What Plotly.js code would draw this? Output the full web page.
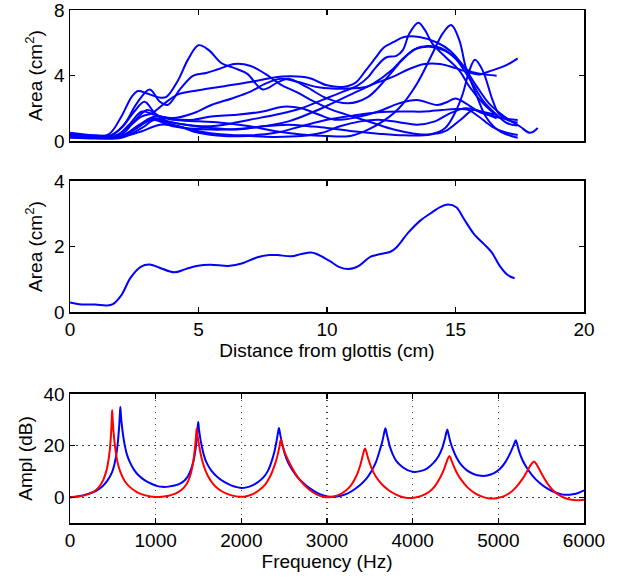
<!DOCTYPE html>
<html><head><meta charset="utf-8">
<script src="https://cdn.plot.ly/plotly-3.0.1.min.js"></script>
<style>html,body{margin:0;padding:0;background:#fff}</style>
</head><body><div id="chart" style="width:622px;height:581px"></div>
<script>
// ---- Top panel: area functions (cm^2) vs distance from glottis (cm) ----
const k1x=[0,0.8,1.5,2.0,2.4,2.65,3.0,3.5,3.75,4.2,4.6,5.0,5.4,5.9,6.4,6.9,7.5,8.1,8.5,9.2,10.0,10.8,11.6,12.3,12.9,13.4,13.9,14.4,14.9,15.3,15.7,16.1,16.6,17.0,17.4];
const k1y=[0.35,0.3,0.4,1.5,2.7,3.05,2.9,2.65,2.7,3.7,5.0,5.85,5.55,4.75,4.45,4.1,3.15,3.6,3.8,3.3,2.6,2.3,2.7,3.8,4.9,5.6,5.8,5.7,5.2,4.4,3.4,2.4,1.6,1.1,0.94];
const k2x=[0,0.8,1.6,2.1,2.6,3.1,3.5,3.8,4.3,4.8,5.3,5.8,6.4,7.0,7.6,8.2,8.8,9.5,10.2,11.0,11.8,12.6,13.4,14.0,14.6,15.2,15.7,16.1,16.6];
const k2y=[0.4,0.3,0.35,1.0,2.3,3.15,2.4,2.2,3.2,4.0,4.15,4.4,4.7,4.6,4.1,3.45,3.0,2.4,1.9,1.5,1.1,0.7,0.45,0.4,0.6,1.3,1.9,1.7,1.38];
const k3x=[0,1.0,1.8,2.3,2.8,3.2,3.6,4.2,5.0,6.0,7.0,8.0,8.6,9.3,10.0,10.6,11.1,11.5,11.9,12.2,12.6,13.0,13.6,14.3,14.8,15.3,15.8,16.3,16.9,17.5,17.9,18.2];
const k3y=[0.3,0.25,0.35,0.9,1.5,1.7,2.2,2.85,3.1,3.35,3.6,3.9,3.95,3.85,3.4,3.3,3.55,4.3,5.1,5.7,6.05,6.35,6.35,6.0,5.5,4.6,3.4,2.3,1.5,0.9,0.5,0.8];
const k4x=[0,1.0,1.8,2.3,2.8,3.3,4.0,4.8,5.5,6.3,7.0,7.6,8.2,8.9,9.6,10.2,10.8,11.5,12.0,12.6,13.2,13.8,14.4,15.0,15.5,15.9,16.4,17.0,17.42];
const k4y=[0.3,0.2,0.3,1.0,1.8,1.6,1.4,1.7,2.2,2.6,3.0,3.5,3.8,3.6,3.3,3.2,3.2,3.3,3.6,3.95,4.4,4.7,4.7,4.45,4.2,4.06,4.3,4.65,5.05];
const k5x=[0,0.8,1.5,2.0,2.5,2.9,3.3,3.8,4.5,5.3,6.0,7.0,8.0,9.0,9.8,10.6,11.2,11.6,11.9,12.3,12.7,12.95,13.2,13.55,13.8,14.1,14.6,15.15,15.55,16.1,16.6];
const k5y=[0.5,0.35,0.3,0.8,1.8,2.4,1.7,1.2,1.0,0.9,1.0,1.3,1.6,2.0,2.5,3.0,3.4,3.9,4.5,5.1,5.2,5.55,6.55,7.22,6.8,5.95,5.15,4.3,3.3,2.25,1.55];
const k6x=[0,1.0,2.0,2.7,3.3,4.0,5.0,6.0,7.0,8.0,9.0,10.0,10.9,11.5,12.2,12.8,13.5,14.1,14.5,14.83,15.15,15.4,15.8,16.2,16.7,17.42];
const k6y=[0.3,0.25,0.3,1.0,1.5,1.3,1.2,1.1,0.9,0.6,0.4,0.3,0.31,0.62,1.23,2.0,3.5,5.33,6.56,7.08,6.15,4.5,2.87,1.44,0.62,0.2];
const k7x=[0,1.0,2.0,2.6,3.2,3.8,4.5,5.5,6.5,7.5,8.5,9.3,10.0,11.0,12.0,13.0,14.0,14.6,15.02,15.28,15.54,15.76,16.06,16.45,16.7,17.1,17.42];
const k7y=[0.25,0.2,0.25,0.8,1.4,1.2,1.0,0.8,0.7,0.9,1.0,0.9,0.8,0.6,0.45,0.35,0.4,0.8,1.85,2.87,4.3,4.96,4.3,2.46,1.64,1.23,1.13];
const k8x=[0,1.0,2.0,2.5,3.2,4.0,5.5,7.0,8.5,9.5,10.2,11.0,11.8,12.5,13.0,13.5,14.0,14.6,15.1,15.5,16.0,16.6];
const k8y=[0.3,0.25,0.3,0.7,1.3,0.9,0.7,0.8,1.2,1.8,2.3,2.9,3.5,4.3,5.1,5.65,5.75,5.5,4.9,4.3,4.1,3.99];
const k9x=[0,1.0,2.0,2.8,3.3,4.0,5.0,6.0,7.0,8.0,9.0,10.0,11.0,12.0,13.0,13.8,14.5,15.0,15.5,15.9,16.4,16.9,17.42];
const k9y=[0.2,0.15,0.2,0.8,1.3,1.0,0.6,0.4,0.35,0.5,0.9,1.3,1.55,1.75,1.8,1.8,1.9,1.95,1.9,1.5,0.9,0.55,0.37];
const k10x=[0,1.0,2.0,2.5,3.0,3.5,4.0,4.8,5.5,6.5,7.5,8.3,9.0,9.7,10.3,11.0,12.0,12.8,13.5,14.3,14.7,15.0,15.4,15.9,16.5,17.0,17.42];
const k10y=[0.45,0.35,0.4,1.2,1.9,1.5,1.35,1.3,1.5,1.6,1.8,2.1,2.0,1.6,1.3,1.4,1.8,2.3,2.5,2.2,2.4,2.6,2.3,1.8,1.5,1.35,1.28];
const k11x=[0,1.0,2.0,2.8,3.5,4.2,5.0,6.0,7.0,8.0,9.0,9.8,10.5,11.3,12.0,12.8,13.5,14.2,14.8,15.4,16.0,16.6];
const k11y=[0.25,0.2,0.25,0.6,1.0,0.9,0.5,0.3,0.3,0.25,0.3,0.5,0.9,1.2,1.3,1.15,1.0,1.2,1.7,2.0,1.8,1.59];
const topX=[k1x,k2x,k3x,k4x,k5x,k6x,k7x,k8x,k9x,k10x,k11x];
const topY=[k1y,k2y,k3y,k4y,k5y,k6y,k7y,k8y,k9y,k10y,k11y];

// ---- Middle panel: single area function ----
const midX=[0,0.35,0.97,1.43,1.67,1.98,2.36,2.75,3.1,3.46,4.06,4.5,4.98,5.45,6.22,6.68,7.3,7.76,8.07,8.61,9.0,9.38,9.6,10.08,10.46,10.85,11.24,11.7,12.08,12.47,12.7,13.17,13.63,14.1,14.4,14.71,15.03,15.33,15.72,16.1,16.41,16.72,17.03,17.3];
const midY=[0.29,0.24,0.23,0.2,0.24,0.49,1.05,1.38,1.45,1.36,1.21,1.31,1.41,1.44,1.41,1.48,1.67,1.74,1.74,1.70,1.77,1.82,1.77,1.57,1.38,1.31,1.41,1.69,1.77,1.84,1.97,2.43,2.79,3.05,3.2,3.28,3.2,2.84,2.38,2.08,1.82,1.41,1.13,1.03];

// ---- Bottom panel: frequency responses (Hz, dB) ----
const freqBlue=[0,100,200,300,380,440,490,520,545,562,575,583,588,595,605,620,640,665,700,750,800,870,950,1020,1080,1150,1220,1290,1340,1380,1420,1445,1465,1480,1490,1497,
 1505,1520,1540,1565,1600,1650,1720,1800,1880,1960,2000,2060,2130,2200,2260,2310,2350,2385,2410,2428,2439,
 2450,2465,2485,2510,2545,2590,2650,2720,2800,2880,2950,3010,3080,3150,3230,3310,3390,3460,3520,3570,3610,3645,3668,3682,
 3695,3712,3735,3765,3810,3870,3940,4020,4100,4170,4240,4300,4345,4375,4395,4405,
 4418,4440,4470,4510,4560,4630,4710,4800,4870,4950,5020,5080,5130,5170,5195,5205,
 5220,5245,5280,5330,5400,5480,5560,5650,5740,5800,5870,5940,6000];
const amplBlue=[0,0.4,1.2,2.4,4.2,6.6,9.6,13,17.5,22.5,28,32.5,35,31.5,28,24,20,16.5,13.5,10.5,8.5,6.6,5.2,4.3,4.0,4.1,4.5,5.4,6.6,8.3,11.5,14.5,18.5,23,27,29.1,
 26.5,23,19.5,16,13,10.3,7.8,5.9,4.6,3.8,3.6,3.8,4.6,6.0,7.8,10.2,13.5,17.5,21.5,25,26.8,
 25,22.5,19.5,16.5,13.5,10.8,8.0,5.6,3.4,1.8,0.8,0.3,0.2,0.5,1.3,2.8,4.8,7.2,10.2,13.5,17.5,21.5,25,26.7,
 25,22.5,19.5,16.8,14,12,10.5,9.8,10.2,11.2,13.2,15.8,19,22.5,25.3,26.2,
 24.5,21.5,18.5,15.5,12.8,10.5,9.0,8.3,8.4,9.3,11.0,13.5,16.5,19.5,21.5,22.1,
 20.5,17.5,14.5,11.5,8.3,5.6,3.6,2.0,1.1,0.9,1.1,1.7,2.6];
const freqRed=[0,100,200,280,340,390,425,450,468,480,487,492,
 500,512,530,555,590,640,700,780,860,940,1000,1070,1150,1230,1300,1360,1405,1435,1457,1470,1478,
 1488,1505,1530,1565,1610,1670,1740,1820,1900,1980,2060,2140,2210,2280,2340,2390,2425,2447,2461,
 2475,2500,2530,2570,2620,2680,2750,2830,2910,2980,3050,3130,3210,3280,3340,3385,3415,3435,3445,
 3460,3485,3520,3570,3640,3720,3800,3880,3950,4030,4110,4190,4260,4320,4370,4405,4428,
 4445,4470,4510,4570,4640,4720,4810,4900,4980,5060,5140,5210,5280,5340,5385,5415,
 5440,5475,5520,5580,5650,5730,5810,5880,5950,6000];
const amplRed=[0,0.3,1.0,2.2,4.0,6.8,10.3,14.5,19.5,25,30,33.8,
 29,24,18.5,13.5,9.6,6.2,3.9,2.0,0.9,0.3,0.1,0.2,0.6,1.4,2.8,5.0,8.5,13,18.5,23,26.6,
 24,20.5,16,11.8,8.2,5.2,3.0,1.5,0.6,0.2,0.4,1.3,2.8,5.0,8.3,12.5,16.5,20,22.5,
 21,18,15.5,12.8,9.8,6.8,4.2,2.0,0.6,0.0,0.1,0.8,2.3,4.6,8.0,12,15.8,18.3,18.9,
 17.5,14.5,11.3,8.0,5.0,2.7,1.1,0.1,-0.3,-0.1,0.6,2.0,4.3,7.5,11.2,14.5,16.0,
 15,12.8,9.8,6.6,3.8,1.7,0.2,-0.5,-0.4,0.3,1.8,4.0,7.0,10.3,12.8,13.8,
 13,11,8.2,5.0,2.3,0.4,-0.7,-1.1,-1.2,-1.0];

const BLUE='#0000ff', RED='#ff0000';
const traces=[];
for(let i=0;i<topX.length;i++){
  traces.push({x:topX[i],y:topY[i],type:'scatter',mode:'lines',xaxis:'x',yaxis:'y',
    line:{color:BLUE,width:2,shape:'spline',smoothing:1},hoverinfo:'skip'});
}
traces.push({x:midX,y:midY,type:'scatter',mode:'lines',xaxis:'x2',yaxis:'y2',
  line:{color:BLUE,width:2,shape:'spline',smoothing:1}});
traces.push({x:freqBlue,y:amplBlue,type:'scatter',mode:'lines',xaxis:'x3',yaxis:'y3',
  line:{color:BLUE,width:2,shape:'spline',smoothing:0.8}});
traces.push({x:freqRed,y:amplRed,type:'scatter',mode:'lines',xaxis:'x3',yaxis:'y3',
  line:{color:RED,width:2,shape:'spline',smoothing:0.8}});

const ax={showline:true,linecolor:'#000',linewidth:1.5,mirror:'ticks',ticks:'inside',
  ticklen:5,tickwidth:1.2,tickcolor:'#000',zeroline:false,showgrid:false,fixedrange:true,
  ticklabeloverflow:'allow'};
const F='Liberation Sans, Arial, Helvetica, sans-serif';
const gridDash='1.5px,4.5px';
const layout={
  width:622,height:581,margin:{l:70,r:38,t:10,b:58},
  paper_bgcolor:'#fff',plot_bgcolor:'#fff',showlegend:false,
  font:{family:F,size:19,color:'#000'},
  xaxis:Object.assign({},ax,{anchor:'y',range:[0,20],tickvals:[0,5,10,15,20],showticklabels:false}),
  yaxis:Object.assign({},ax,{anchor:'x',domain:[0.7446,1],range:[0,8],tickvals:[0,4,8],
    title:{text:'Area (cm<sup>2</sup>)',font:{size:19},standoff:6}}),
  xaxis2:Object.assign({},ax,{anchor:'y2',range:[0,20],tickvals:[0,5,10,15,20],
    title:{text:'Distance from glottis (cm)',font:{size:19},standoff:2}}),
  yaxis2:Object.assign({},ax,{anchor:'x2',domain:[0.4113,0.6667],range:[0,4],tickvals:[0,2,4],
    title:{text:'Area (cm<sup>2</sup>)',font:{size:19},standoff:6}}),
  xaxis3:Object.assign({},ax,{anchor:'y3',range:[0,6000],tickvals:[0,1000,2000,3000,4000,5000,6000],
    showgrid:true,gridcolor:'#444',griddash:gridDash,gridwidth:1.2,
    title:{text:'Frequency (Hz)',font:{size:19},standoff:2}}),
  yaxis3:Object.assign({},ax,{anchor:'x3',domain:[0,0.2515],range:[-10,40],tickvals:[0,20,40],
    showgrid:true,gridcolor:'#444',griddash:gridDash,gridwidth:1.2,
    title:{text:'Ampl (dB)',font:{size:19},standoff:6}})
};
Plotly.newPlot('chart',traces,layout,{staticPlot:true,displayModeBar:false});
</script></body></html>
